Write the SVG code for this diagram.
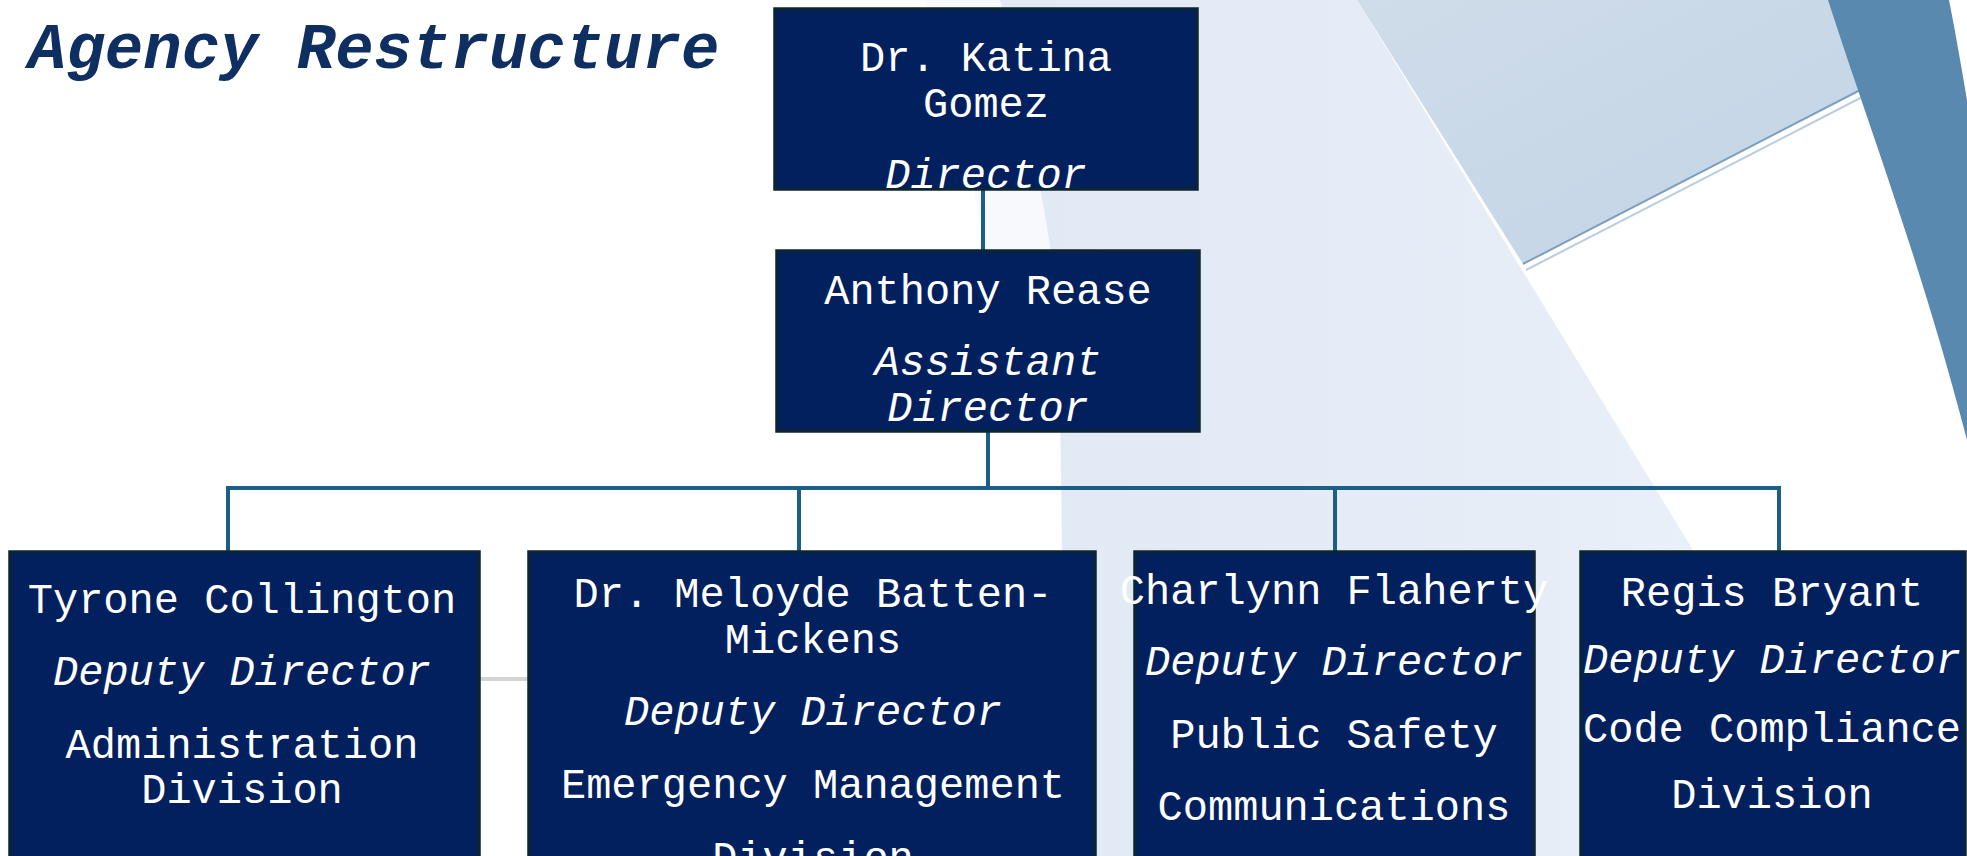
<svg xmlns="http://www.w3.org/2000/svg" width="1967" height="856" viewBox="0 0 1967 856">
<defs>
<linearGradient id="lightBg" x1="0" y1="0" x2="1" y2="0">
<stop offset="0" stop-color="#e1e9f4"/>
<stop offset="0.6" stop-color="#e6edf7"/>
<stop offset="1" stop-color="#eef3fa"/>
</linearGradient>
<linearGradient id="darkBg" x1="0" y1="0" x2="1" y2="1">
<stop offset="0" stop-color="#cfdcea"/>
<stop offset="1" stop-color="#c2d4e5"/>
</linearGradient>
<style>
.box{fill:#02205e;stroke:#0b2436;stroke-width:3.5}
.t{font-family:"Liberation Mono","Courier New",monospace;font-size:42px;fill:#ffffff;text-anchor:middle}
.i{font-style:italic}
.conn{fill:none;stroke:#1c5f86;stroke-width:4}
</style>
</defs>
<g id="background">
<rect x="0" y="0" width="1967" height="856" fill="#ffffff"/>
<path d="M925,0 L1000,0 C1015,80 1040,170 1052,260 L985,260 C975,170 950,80 925,0 Z" fill="#f7f9fc"/>
<path d="M1000,0 L1357,0 L1880,856 L1060,856 C1063,600 1064,400 1052,260 C1040,170 1015,80 1000,0 Z" fill="url(#lightBg)"/>
<path d="M1357,0 L1830,0 C1845,30 1858,60 1868,86 L1523,264 Z" fill="url(#darkBg)"/>
<line x1="1523" y1="264" x2="1868" y2="86" stroke="#7c9ebf" stroke-width="2"/>
<line x1="1526" y1="270" x2="1870" y2="93" stroke="#b9cde2" stroke-width="2"/>
<path d="M1828,0 L1949,0 C1955,30 1961,65 1967,100 L1967,440 C1920,260 1870,130 1828,0 Z" fill="#5a89b0"/>
<line x1="470" y1="679" x2="540" y2="679" stroke="#d4d4d4" stroke-width="4"/>
</g>
<g id="title">
<text x="28" y="68" font-family="Liberation Mono, Courier New, monospace" font-size="64" font-weight="bold" font-style="italic" fill="#0f2e62">Agency Restructure</text>
</g>
<g id="connectors">
<line class="conn" x1="983" y1="189" x2="983" y2="251"/>
<line class="conn" x1="988" y1="431" x2="988" y2="488"/>
<line class="conn" x1="226" y1="488" x2="1781" y2="488"/>
<line class="conn" x1="228" y1="486" x2="228" y2="552"/>
<line class="conn" x1="799" y1="488" x2="799" y2="552"/>
<line class="conn" x1="1335" y1="488" x2="1335" y2="552"/>
<line class="conn" x1="1779" y1="486" x2="1779" y2="552"/>
</g>
<g id="node-gomez">
<rect class="box" x="775" y="9" width="422" height="180"/>
<text class="t" x="986" y="71">Dr. Katina</text>
<text class="t" x="986" y="117">Gomez</text>
<text class="t i" x="986" y="188">Director</text>
</g>
<g id="node-rease">
<rect class="box" x="777" y="251" width="422" height="180"/>
<text class="t" x="988" y="304">Anthony Rease</text>
<text class="t i" x="988" y="375">Assistant</text>
<text class="t i" x="988" y="421">Director</text>
</g>
<g id="node-collington">
<rect class="box" x="10" y="552" width="469" height="320"/>
<text class="t" x="242" y="613">Tyrone Collington</text>
<text class="t i" x="242" y="685">Deputy Director</text>
<text class="t" x="242" y="758">Administration</text>
<text class="t" x="242" y="803">Division</text>
</g>
<g id="node-batten-mickens">
<rect class="box" x="529" y="552" width="566" height="320"/>
<text class="t" x="813" y="607">Dr. Meloyde Batten-</text>
<text class="t" x="813" y="653">Mickens</text>
<text class="t i" x="813" y="725">Deputy Director</text>
<text class="t" x="813" y="798">Emergency Management</text>
<text class="t" x="813" y="871">Division</text>
</g>
<g id="node-flaherty">
<rect class="box" x="1135" y="552" width="399" height="320"/>
<text class="t" x="1334" y="604">Charlynn Flaherty</text>
<text class="t i" x="1334" y="675">Deputy Director</text>
<text class="t" x="1334" y="748">Public Safety</text>
<text class="t" x="1334" y="820">Communications</text>
</g>
<g id="node-bryant">
<rect class="box" x="1581" y="552" width="384" height="320"/>
<text class="t" x="1772" y="606">Regis Bryant</text>
<text class="t i" x="1772" y="673">Deputy Director</text>
<text class="t" x="1772" y="742">Code Compliance</text>
<text class="t" x="1772" y="808">Division</text>
</g>
</svg>
